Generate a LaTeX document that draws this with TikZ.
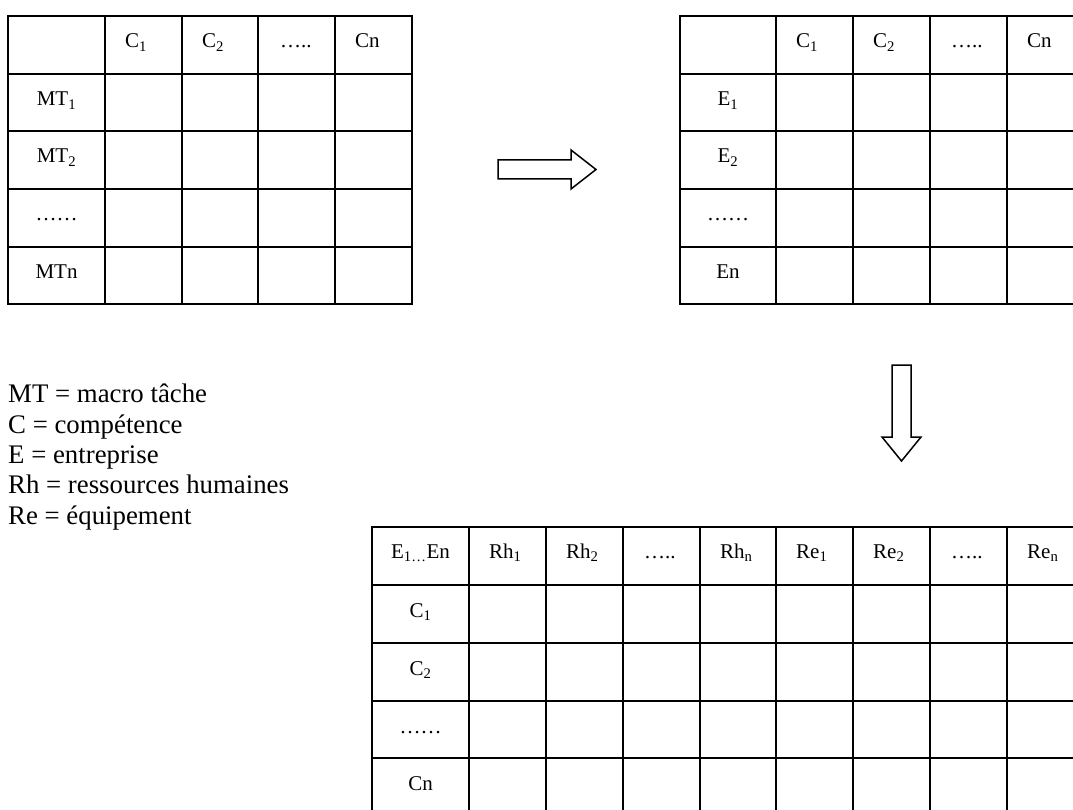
\documentclass[tikz,border=0pt]{standalone}
\usepackage{fontspec}
\setmainfont{Liberation Serif}
\tikzset{
  gridline/.style={line width=1.5pt, line cap=rect},
  cell/.style={inner sep=0pt, font=\fontsize{21}{21}\selectfont},
  hcell/.style={cell, anchor=base west},
  rcell/.style={cell, anchor=base},
  legend/.style={inner sep=0pt, anchor=base west, font=\fontsize{26.8}{31}\selectfont},
  blockarrow/.style={line width=1.5pt, line join=miter},
}
\begin{document}
\begin{tikzpicture}[x=1pt,y=-1pt]
\useasboundingbox (0,0) rectangle (1073,810);
\clip (0,0) rectangle (1073,810);
% ---------- table 1 ----------
\foreach \y in {16,74,131,189,247,304} \draw[gridline] (8,\y) -- (412,\y);
\foreach \x in {8,105,182,258,335,412} \draw[gridline] (\x,16) -- (\x,304);
\node[hcell] (a-c1) at (125,48) {C\textsubscript{1}};
\node[hcell] (a-c2) at (202,48) {C\textsubscript{2}};
\node[hcell] (a-cd) at (280,48) {…..};
\node[hcell] (a-cn) at (355,48) {Cn};
\node[rcell] (a-r1) at (56.5,106) {MT\textsubscript{1}};
\node[rcell] (a-r2) at (56.5,163) {MT\textsubscript{2}};
\node[rcell] (a-rd) at (56.5,221) {……};
\node[rcell] (a-rn) at (56.5,279) {MTn};
% ---------- table 2 ----------
\foreach \y in {16,74,131,189,247,304} \draw[gridline] (680,\y) -- (1084,\y);
\foreach \x in {680,776,853,930,1007,1084} \draw[gridline] (\x,16) -- (\x,304);
\node[hcell] (b-c1) at (796,48) {C\textsubscript{1}};
\node[hcell] (b-c2) at (873,48) {C\textsubscript{2}};
\node[hcell] (b-cd) at (951,48) {…..};
\node[hcell] (b-cn) at (1027,48) {Cn};
\node[rcell] (b-r1) at (728,106) {E\textsubscript{1}};
\node[rcell] (b-r2) at (728,163) {E\textsubscript{2}};
\node[rcell] (b-rd) at (728,221) {……};
\node[rcell] (b-rn) at (728,279) {En};
% ---------- table 3 ----------
\foreach \y in {527,585,643,701,758,816} \draw[gridline] (372,\y) -- (1084,\y);
\foreach \x in {372,469,546,623,700,776,853,930,1007,1084} \draw[gridline] (\x,527) -- (\x,816);
\node[rcell] (c-h0) at (420.5,558) {E\textsubscript{1…}En};
\node[hcell] (c-h1) at (489,558) {Rh\textsubscript{1}};
\node[hcell] (c-h2) at (566,558) {Rh\textsubscript{2}};
\node[hcell] (c-h3) at (644,558) {…..};
\node[hcell] (c-h4) at (720,558) {Rh\textsubscript{n}};
\node[hcell] (c-h5) at (796,558) {Re\textsubscript{1}};
\node[hcell] (c-h6) at (873,558) {Re\textsubscript{2}};
\node[hcell] (c-h7) at (951,558) {…..};
\node[hcell] (c-h8) at (1027,558) {Re\textsubscript{n}};
\node[rcell] (c-r1) at (420.5,617) {C\textsubscript{1}};
\node[rcell] (c-r2) at (420.5,675) {C\textsubscript{2}};
\node[rcell] (c-rd) at (420.5,733) {……};
\node[rcell] (c-rn) at (420.5,790) {Cn};
% ---------- block arrows ----------
\draw[blockarrow] (498,160) -- (571,160) -- (571,150) -- (596,169.5) -- (571,189) -- (571,179) -- (498,179) -- cycle;
\draw[blockarrow] (892,365) -- (911,365) -- (911,437) -- (921,437) -- (901.5,461) -- (882,437) -- (892,437) -- cycle;
% ---------- legend ----------
\node[legend] (l1) at (8,402) {MT = macro tâche};
\node[legend] (l2) at (8,433) {C = compétence};
\node[legend] (l3) at (8,463) {E = entreprise};
\node[legend] (l4) at (8,493) {Rh = ressources humaines};
\node[legend] (l5) at (8,524) {Re = équipement};
\end{tikzpicture}
\end{document}
